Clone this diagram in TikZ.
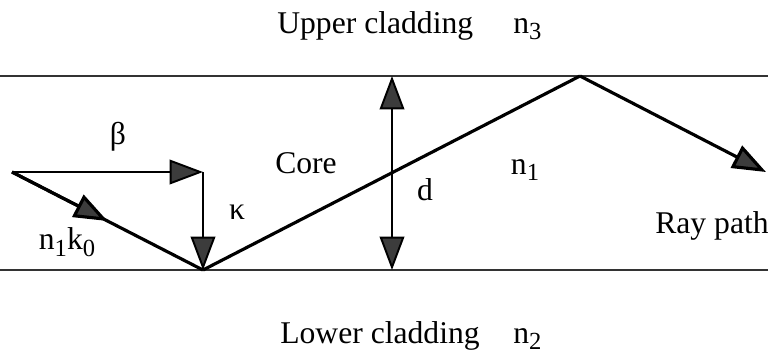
\documentclass[tikz,border=0pt]{standalone}
\usepackage{fontspec}
\setmainfont{Liberation Serif}
\usetikzlibrary{arrows.meta, calc}
\definecolor{tipgray}{HTML}{3C3C3C}
\tikzset{bigtip/.tip={Triangle[length=19pt, width=14pt, fill=tipgray]}}
\newcommand{\lowsub}[1]{\raisebox{-0.45ex}{\fontsize{14}{16}\selectfont #1}}

\begin{document}
\begin{tikzpicture}[x=0.02cm, y=-0.02cm, font=\fontsize{18}{22}\selectfont,
    wall/.style={black!80, line width=1.6pt},
    ray/.style={line width=1.8pt},
    vec/.style={line width=1.1pt}]
  \useasboundingbox (0,0) rectangle (768,353);
  % guide walls
  \coordinate (topL) at (0,76);   \coordinate (topR) at (768,76);
  \coordinate (botL) at (0,270);  \coordinate (botR) at (768,270);
  \draw[wall] (topL) -- (topR);
  \draw[wall] (botL) -- (botR);
  % ray and its wave vector
  \coordinate (src) at (12,172);
  \coordinate (corner) at (203,172);
  \coordinate (bounce) at (203,270);
  \coordinate (peak) at (580,76);
  \coordinate (exit) at (766,172);
  \draw[vec, -bigtip] (src) -- (corner);
  \draw[vec, -bigtip] (corner) -- (bounce);
  \draw[ray] (src) -- (bounce);
  \draw[ray, -bigtip] (src) -- ($(src)!0.5!(bounce)$);
  \draw[ray] (bounce) -- (peak);
  \draw[ray, -bigtip] (peak) -- (exit);
  % thickness
  \coordinate (dtop) at (392,76);
  \coordinate (dbot) at (392,270);
  \draw[vec, bigtip-bigtip] (dtop) -- (dbot);
  % labels
  \node (beta) at (118,137) {β};
  \node (kappa) at (237,212) {κ};
  \node (nk) at (67,242) {n\lowsub{1}k\lowsub{0}};
  \node (core) at (306,163) {Core};
  \node (dlab) at (425,190) {d};
  \node (ncore) at (525,170) {n\lowsub{1}};
  \node (raylab) at (712,226) {Ray path};
  \node[anchor=base west, inner sep=0pt] (upper) at (277,33) {Upper cladding};
  \node[anchor=base west, inner sep=0pt] (nup) at (513,33) {n\lowsub{3}};
  \node[anchor=base west, inner sep=0pt] (lower) at (280,343) {Lower cladding};
  \node[anchor=base west, inner sep=0pt] (nlow) at (513,343) {n\lowsub{2}};
\end{tikzpicture}
\end{document}
